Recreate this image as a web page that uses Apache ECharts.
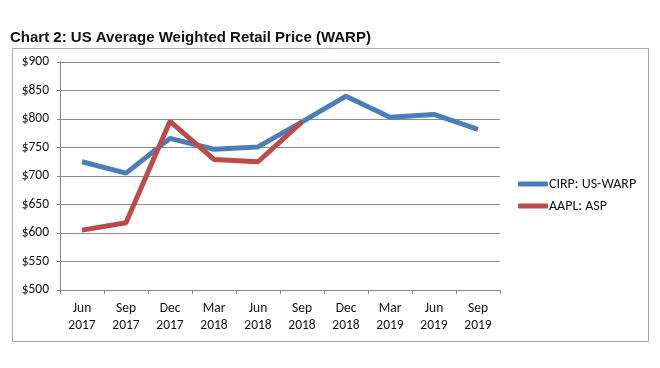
<!DOCTYPE html>
<html><head><meta charset="utf-8">
<script src="https://cdn.jsdelivr.net/npm/echarts@6/dist/echarts.min.js"></script>
<style>html,body{margin:0;padding:0;background:#fff}#c{width:660px;height:368px}</style>
</head><body><div id="c"></div>
<script>
const categories = ['Jun\n2017','Sep\n2017','Dec\n2017','Mar\n2018','Jun\n2018','Sep\n2018','Dec\n2018','Mar\n2019','Jun\n2019','Sep\n2019'];
const cirpWarp = [725, 705, 766, 747, 751, 795, 840, 803, 808, 782];
const aaplAsp = [605, 618, 796, 729, 725, 795, null, null, null, null];
const yTicks = {min: 500, max: 900, interval: 50};
const seriesNames = ['CIRP: US-WARP', 'AAPL: ASP'];

const font = "Carlito, 'Liberation Sans Narrow', 'Liberation Sans', Arial, sans-serif";
const chart = echarts.init(document.getElementById('c'), null, {renderer:'canvas'});
chart.setOption({
  animation:false,
  title:{text:'Chart 2: US Average Weighted Retail Price (WARP)', left:5, top:25,
    textStyle:{fontFamily:"'Liberation Sans', Arial, sans-serif", fontWeight:'bold', fontSize:15, color:'#111'}},
  graphic:[{type:'rect', shape:{x:12.5, y:48.5, width:636, height:293}, style:{fill:'none', stroke:'#a6a6a6', lineWidth:1}, silent:true}],
  legend:{orient:'vertical', left:513, top:172, itemGap:8, itemWidth:30, itemHeight:5, icon:'roundRect',
    textStyle:{fontFamily:font, fontSize:14, color:'#111', padding:[0,0,0,-4]},
    data:seriesNames},
  grid:{left:60, right:160, top:62, bottom:78},
  xAxis:{type:'category', data:categories, boundaryGap:true,
    axisLine:{lineStyle:{color:'#868686', width:1}},
    axisTick:{show:true, alignWithLabel:false, length:4, lineStyle:{color:'#868686'}},
    axisLabel:{fontFamily:font, fontSize:13.5, color:'#111', margin:10, lineHeight:17}},
  yAxis:{type:'value', min:yTicks.min, max:yTicks.max, interval:yTicks.interval,
    axisLine:{show:true, lineStyle:{color:'#868686'}},
    axisTick:{show:true, length:3, lineStyle:{color:'#868686'}},
    splitLine:{lineStyle:{color:'#8c8c8c', width:1}},
    axisLabel:{fontFamily:font, fontSize:13.5, color:'#111', margin:11, formatter:v=>'$'+v}},
  series:[
    {name:seriesNames[0], type:'line', data:cirpWarp, symbol:'none', z:2,
      lineStyle:{color:'#4a7ebb', width:5}, itemStyle:{color:'#4a7ebb'}},
    {name:seriesNames[1], type:'line', data:aaplAsp, symbol:'none', z:3,
      lineStyle:{color:'#be4b48', width:5}, itemStyle:{color:'#be4b48'}}
  ]
});
</script></body></html>
